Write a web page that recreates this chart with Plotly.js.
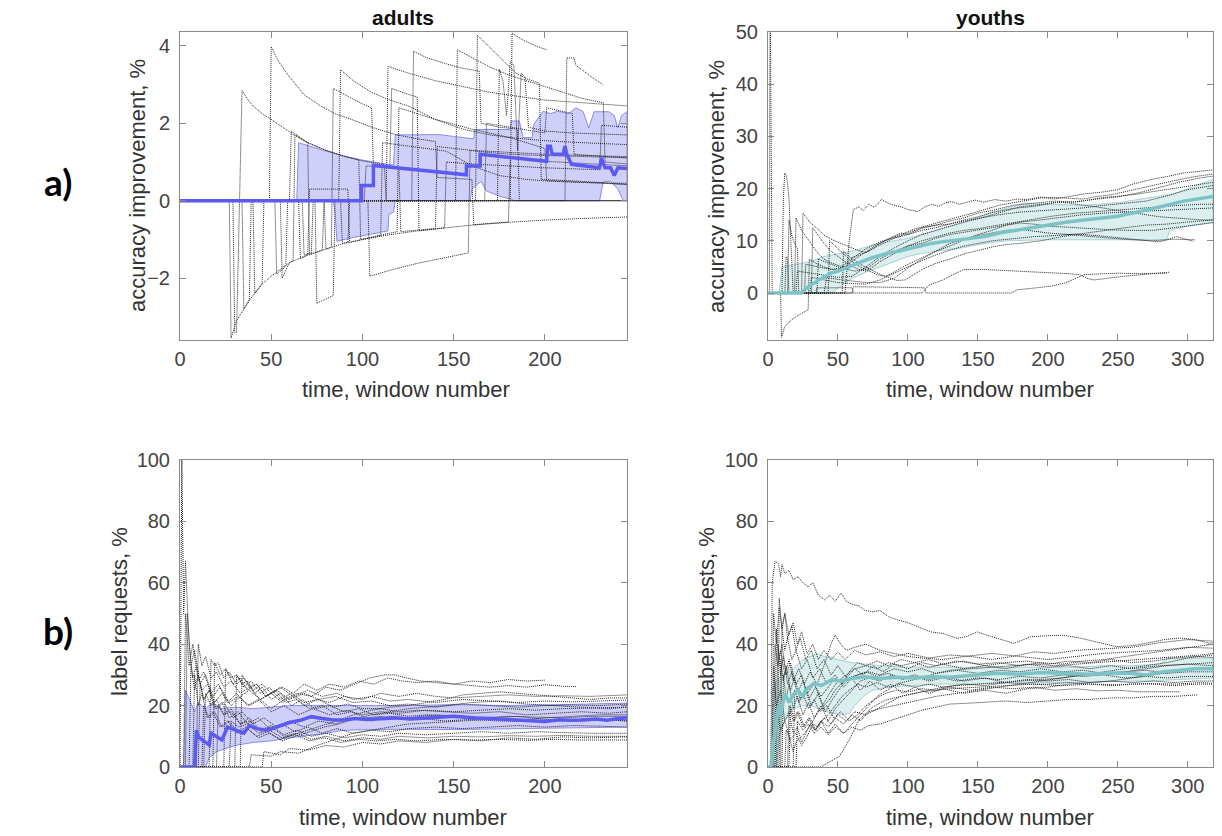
<!DOCTYPE html>
<html><head><meta charset="utf-8">
<script src="https://cdn.plot.ly/plotly-3.0.1.min.js"></script>
<style>html,body{margin:0;padding:0;background:#fff;}#chart{width:1222px;height:836px;}</style>
</head><body><div id="chart"></div>
<script>
// ---------- tick labels ----------
const adultTimeTicks = [0, 50, 100, 150, 200];
const youthTimeTicks = [0, 50, 100, 150, 200, 250, 300];
const adultAccTicks = [-2, 0, 2, 4];
const youthAccTicks = [0, 10, 20, 30, 40, 50];
const labelTicks = [0, 20, 40, 60, 80, 100];

// ---------- a) adults: accuracy improvement ----------
const adultAccMedian = [[0,0],[99.5,0],[99.5,0.39],[106,0.39],[106,0.91],[157,0.67],[157,0.9],[164.5,0.9],[164.5,1.2],[201,1.02],[201.5,1.41],[203,1.41],[204,1.2],[210,1.2],[211,1.41],[212,1.2],[214.6,0.94],[230,0.85],[231,1.1],[233,0.85],[236,0.85],[238,0.65],[240,0.85],[245,0.83]];
const adultAccUpper = [[0,0],[64,0],[65,1.5],[70,1.42],[80,1.28],[90,1.15],[100,1.05],[110,0.97],[117,0.92],[118,1.7],[142,1.71],[150,1.66],[161,1.6],[161.5,1.84],[181,1.84],[181.5,2.06],[186,2.06],[188,1.63],[193,1.63],[194,1.98],[199,2.31],[203,2.25],[207,2.31],[213,2.25],[217,2.4],[221,2.3],[224,1.88],[227,2.3],[235,2.3],[238,2.2],[240,1.88],[242,2.2],[245,2.3]];
const adultAccLower = [[0,0],[84,0],[85,-0.3],[86,-1.05],[95,-0.95],[105,-0.86],[114,-0.78],[114.5,-0.35],[117,-0.3],[118,0],[159,0],[160,0.3],[165,0.5],[168,0.25],[175,0.12],[182,0.03],[183,0],[230,0],[232,0.5],[236,0.5],[240,0.3],[243,0],[245,0]];
const adA01 = [[0,0],[27,0],[28,-3.55],[31,-3.1],[35,-2.8],[40,-2.45],[45,-2.15],[50,-1.95],[60,-1.6],[70,-1.4],[80,-1.25],[90,-1.1],[100,-1.0],[115,-0.88],[130,-0.78],[145,-0.7],[160,-0.63],[180,-0.56],[200,-0.5],[220,-0.46],[245,-0.42]];
const adA02 = [[0,0],[29,0],[30,-3.4],[31,-3.4],[34,2.85],[37,2.62],[40,2.45],[45,2.25],[50,2.1],[55,1.93],[60,1.78],[65,1.63],[70,1.5],[80,1.3],[90,1.15],[100,1.03],[110,0.95],[112,0.93],[113,0],[245,0]];
const adA03 = [[0,0],[49,0],[50,3.98],[54,3.6],[59,3.26],[64,2.98],[68,2.74],[77,2.45],[85,2.25],[94,2.1],[105,1.9],[118,1.71],[130,1.6],[140,1.53],[141,0.6],[160,0.55],[161,-0.62],[180,-0.55],[181,1.1],[200,1.02],[245,0.9]];
const adA04 = [[0,0],[74,0],[75,-2.65],[80,-2.55],[84,-2.45],[85,0],[87,0],[88,3.38],[95,3.1],[105,2.8],[115,2.6],[125,2.45],[140,2.1],[155,1.85],[170,1.7],[181,1.63],[200,1.55],[220,1.5],[245,1.45]];
const adA05 = [[0,0],[113,0],[114,3.47],[125,3.3],[140,3.1],[155,2.95],[170,2.8],[185,2.7],[200,2.6],[215,2.55],[230,2.5],[245,2.45]];
const adA06 = [[0,0],[103,0],[104,-1.95],[115,-1.8],[130,-1.62],[145,-1.48],[158,-1.35],[159,1.3],[175,1.22],[190,1.18],[210,1.15],[230,1.13],[245,1.12]];
const adA07 = [[0,0],[127,0],[128,3.86],[135,3.7],[145,3.55],[155,3.42],[164,3.35],[165,2.0],[175,1.9],[185,1.85],[186,0],[245,0]];
const adA08 = [[0,0],[151,0],[152,3.9],[160,3.7],[170,3.45],[180,3.25],[190,3.1],[200,2.95],[210,2.8],[220,2.65],[232,2.53],[233,1.0],[245,0.95]];
const adA09 = [[0,0],[162,0],[163,4.28],[170,3.95],[178,3.6],[184,3.3],[190,3.15],[197,3.04],[198,0.55],[220,0.5],[245,0.42]];
const adA10 = [[0,0],[181,0],[182,4.33],[188,4.15],[195,4.0],[201,3.9]];
const adA11 = [[0,0],[174,0],[175,3.4],[177,3.1],[179,2.2],[181,3.6],[183,3.5],[185,1.3],[187,3.3],[189,3.2],[191,1.9],[200,1.8],[215,1.75],[245,1.7]];
const adA12 = [[0,0],[211,0],[212,3.69],[216,3.69],[217,3.5],[224,3.25],[232,2.99]];
const adA13 = [[0,0],[55,0],[56,-2.0],[60,-1.6],[62,-1.55],[63,1.7],[70,1.5],[80,1.3],[90,1.15],[98,1.05],[99,-1.0],[110,-0.9],[119,-0.8],[120,2.4],[140,2.1],[160,1.85],[181,1.63],[200,1.35],[201,0.52],[245,0.42]];
const adA14 = [[0,0],[65,0],[66,-1.5],[70,-1.4],[71,0.3],[92,0.3],[93,-1.08],[110,-0.9],[111,1.5],[130,1.38],[146,1.28],[160,0.9],[175,0.65],[190,0.55],[201,0.51],[220,0.47],[245,0.45]];
const adA15 = [[0,0],[34,0],[35,-2.8],[38,-2.55],[39,0],[60,0],[61,1.8],[70,1.5],[71,-1.4],[78,-1.28],[79,0],[101,0],[102,0.9],[120,0.85],[121,-0.8],[140,-0.72],[141,1.4],[160,1.3],[180,1.25],[200,1.2],[220,1.17],[245,1.14]];
const adA16 = [[0,0],[79,0],[80,-1.25],[83,-1.2],[84,2.9],[90,2.75],[100,2.5],[105,2.4],[106,0.9],[115,0.87],[116,2.9],[125,2.75],[130,2.68],[131,-0.78],[145,-0.7],[146,1.0],[160,0.95],[200,0.85],[230,0.8],[231,1.95],[245,1.9]];
const adA17 = [[0,0],[40,0],[41,-2.4],[45,-2.15],[46,0],[52,0],[53,-1.9],[58,-1.7],[59,0],[67,0],[68,-1.4],[72,-1.35],[73,0],[88,0],[89,-1.1],[92,-1.08],[93,0],[245,0]];
const adA18 = [[0,0],[167,0],[168,2.0],[180,1.9],[200,1.75],[201,2.4],[210,2.3],[215,2.25],[216,1.2],[245,1.1]];

// ---------- a) youths: accuracy improvement ----------
const youthAccMedian = [[0,0],[24,0],[27,0.8],[30,1.5],[33,1.9],[36,2.5],[40,3.0],[45,3.8],[50,4.2],[57,5.0],[63,5.6],[69,6.2],[75,6.8],[81,7.3],[87,7.7],[93,8.0],[99,8.4],[105,8.7],[111,9.1],[117,9.5],[124,9.8],[130,10.0],[140,10.4],[147,10.6],[155,10.8],[165,11.5],[178,12.1],[190,12.6],[202,13.1],[214,13.6],[226,14.0],[238,14.3],[250,14.7],[262,15.4],[273,16.0],[285,16.8],[297,17.6],[308,18.1],[318,18.5]];
const youthAccUpper = [[0,0],[8,0],[10,5],[20,5.5],[30,6],[40,7],[50,7.5],[60,8],[70,8.8],[80,9.5],[90,10],[100,10.5],[110,11.2],[120,12],[130,12.8],[140,13.5],[150,14.5],[160,15.5],[170,16.2],[183,17.2],[200,17],[225,16.8],[250,17.3],[273,18.2],[290,19],[305,20.5],[318,21.8]];
const youthAccLower = [[0,0],[45,0],[50,1],[60,2.8],[70,4],[80,5],[90,6],[100,7],[110,7.6],[120,8],[130,8.4],[140,8.7],[155,9.5],[170,10],[200,10.2],[230,10.2],[260,10.2],[285,10.2],[287,12],[300,12.8],[318,13.5]];
const yA00 = [[0,0],[1,0],[1.5,60],[3,0],[9,0],[9.7,-8.5],[12,-6.4],[17,-5.1],[22,-4.2],[28.7,-3.2],[29.5,6.5],[35,5.6],[40,5.0],[45,4.6],[50,4.4],[55,5.5],[60,6.8],[70,7.8],[80,9.2],[90,10.5],[100,11.2],[110,12.4],[120,13],[130,13.8],[140,14.4],[150,15.3],[160,15.8],[175,16.8],[190,17.2],[205,17.6],[220,17.4],[240,18.3],[260,18.8],[280,19.6],[300,20.5],[318,21.2]];
const yA01 = [[0,0],[55,0],[56,3],[58,10],[61,16],[65,16.5],[68,15.8],[72,17],[76,16.4],[81,17.9],[86,17.2],[90,16.8],[95,16.5],[100,16],[107,15.6],[112,16.5],[117,17],[122,16.6],[127,17.3],[131,17.5],[137,17],[142,17.4],[148,17.8],[154,17.4],[162,17.9],[170,17.6],[178,18],[185,17.9],[195,18.4],[205,18],[216,18.5],[226,19],[238,19.3],[250,19.8],[260,20.8],[273,21.7],[285,22.3],[297,23],[308,23.3],[318,23.6]];
const yA02 = [[0,0],[10,0],[11,18.3],[12,23],[13,22.5],[14,21],[15,18],[17,4],[18,0],[60,0],[61,1.2],[90,1.1],[112,1],[113,0],[174,0],[178,0.6],[190,0.9],[202,1.3],[212,1.9],[220,2.8],[226,3.5],[240,3.7],[250,3.8],[265,3.7],[285,3.8]];
const yA03 = [[0,0],[12,0],[13,7],[14,6.5],[15,0],[110,0],[115,1.5],[125,2.5],[132,3.5],[140,4.5],[155,4.5],[170,4.3],[183,4.1],[200,4.0],[215,3.7],[223,3.5],[228,2.8],[233,2.5],[244,2.9],[254,3.2],[270,3.6],[287,4.0]];
const yA04 = [[0,0],[24,0],[25,15.3],[30,13.5],[35,12.4],[40,11.1],[46,10.2],[52,9.5],[58,8.9],[64,8.2],[70,7.7],[75,8.5],[80,9.5],[85,10.2],[90,10.8],[95,11.5],[100,11.2],[110,12],[120,12.5],[130,13.3],[140,14],[150,14.6],[160,15.4],[175,16.2],[190,16.6],[205,17.3],[220,17.5],[235,18],[250,18.4],[265,19.2],[280,20.2],[295,21.3],[308,22],[318,22.4]];
const yA05 = [[0,0],[19,0],[20,14.4],[24,12],[28,10.5],[32,9],[36,7.5],[40,6.5],[45,5.8],[50,5.3],[55,5],[60,6.5],[65,7.5],[70,8.5],[80,9.8],[90,10.5],[100,11.5],[110,12.5],[120,13],[130,13.2],[140,13.8],[150,14.3],[165,15],[180,15.5],[195,15.8],[210,16],[225,16.3],[240,16.8],[255,17.2],[270,17.6],[285,18.6],[300,19.8],[318,20.6]];
const yA06 = [[0,0],[31,0],[32,12.5],[36,11],[40,9.5],[45,8],[50,7],[55,6],[60,5.2],[65,4.5],[70,4.2],[75,5],[80,6],[90,7.5],[100,9],[110,10],[120,10.8],[130,11.5],[140,12],[150,12.3],[160,12.8],[175,13.5],[190,14.2],[205,14.8],[220,15.3],[235,15.6],[250,16],[265,16.2],[280,16.5],[295,16.8],[310,17],[318,17]];
const yA07 = [[0,0],[43,0],[44,10],[48,9],[52,8],[56,7],[60,6],[66,5],[72,4.2],[78,3.5],[84,3.2],[90,4],[100,5.5],[110,6.8],[120,8],[130,9],[140,10.2],[150,11.2],[160,12],[170,13],[180,13.6],[195,14],[210,14.5],[225,15],[240,15.3],[255,15.5],[270,15.6],[285,15.8],[300,16],[318,16.3]];
const yA08 = [[0,0],[53,0],[54,8],[58,7],[62,6.2],[68,5.2],[74,4.4],[80,3.6],[86,3],[92,2.4],[98,2.5],[104,3.5],[110,4.5],[120,5.7],[130,6.5],[140,7.5],[150,8.2],[160,8.8],[170,9.3],[180,9.5],[195,10],[210,10.8],[225,11.4],[240,12],[255,12.5],[270,13],[285,13.2],[300,13.6],[318,14]];
const yA09 = [[0,0],[40,0],[42,3],[50,2.6],[60,2.3],[70,2],[80,2],[90,2.8],[100,4.8],[110,6.5],[120,8],[130,9.5],[140,10.3],[150,11],[160,11.5],[170,12],[180,12.2],[190,11.8],[200,11.5],[215,11.2],[230,10.8],[245,10.5],[260,10.2],[275,10],[290,10.3],[305,10.2]];
const yA10 = [[0,0],[30,0],[31,3],[40,2.5],[50,2],[60,1.8],[70,1.7],[80,2.5],[90,3.8],[100,5],[110,6.2],[120,7.3],[130,8.2],[140,9],[150,9.5],[160,10],[175,10.4],[190,10.8],[205,11],[220,11.3],[235,11],[250,10.6],[265,10.2],[280,9.8],[292,10.8],[304,9.9]];
const yA11 = [[0,0],[20,0],[21,4.2],[30,3.8],[40,3.3],[50,3],[60,3.2],[70,5],[80,7],[90,8.6],[100,10],[110,11.2],[120,12],[130,12.8],[140,13.6],[150,14.2],[160,15],[170,15.8],[180,16.5],[190,16.8],[200,17.2],[210,17.5],[220,17],[235,16.5],[250,15.8],[265,15.2],[280,14.6],[295,14.3],[310,14],[318,14]];
const yA12 = [[0,0],[26,0],[27,5.5],[35,5],[45,4.5],[55,5],[65,7],[75,8.8],[85,10.3],[95,11.2],[105,12.3],[115,13],[125,13.8],[135,14.5],[145,15.2],[155,16],[165,16.8],[175,17.3],[185,17.8],[195,18.2],[205,18.3],[215,18.2],[225,18],[235,18.5],[245,18.8],[255,19.4],[265,20],[275,20.6],[285,21.3],[295,21.8],[305,22.3],[318,22.8]];
const yA13 = [[0,0],[35,0],[36,6.5],[42,5.8],[48,5.2],[55,4.6],[62,4.2],[70,4.6],[80,6.5],[90,8],[100,9],[110,9.5],[120,10.5],[130,11.2],[140,11.6],[150,12],[160,12.5],[170,13],[180,13.4],[190,13.2],[200,12.8],[215,12.6],[230,12.3],[245,12.1],[260,12],[275,12],[290,12.5],[305,13],[318,13.5]];
const yA14 = [[0,0],[14,0],[15,14],[17,11],[19,9.5],[21,8.5],[22,0],[34,0],[35,1],[60,1],[61,0]];

// ---------- b) adults: label requests ----------
const adultLabMedian = [[0,0],[8,0],[9,12],[10,9.9],[13,8.5],[16,7.2],[17,11],[20,10],[23,8.8],[26,13],[30,12],[35,11],[38,13.5],[42,12.5],[48,12],[54,13.1],[60,14.5],[66,15.2],[72,16.4],[78,15.8],[84,15.3],[90,15.3],[96,15.8],[102,15.5],[110,15.8],[118,16],[126,15.6],[134,15.8],[142,16.2],[150,16.5],[155,16.4],[162,16],[170,15.8],[178,15.5],[185,15.3],[192,15.1],[200,14.8],[208,15.4],[214,15.2],[220,15.3],[228,15.6],[234,15.2],[240,15.8],[245,16]];
const adultLabUpper = [[0,0],[2,0],[3,25],[5,22],[8,18],[10,21],[14,19],[18,21],[22,19],[30,19.5],[40,19],[50,19.5],[60,20],[80,20],[100,20],[120,20],[150,20.3],[180,20],[200,20.2],[220,20.5],[245,20.8]];
const adultLabLower = [[0,0],[14,0],[16,3],[20,5],[25,6],[30,7],[40,8],[50,8.5],[60,9.5],[70,10.3],[80,11],[90,12],[100,12.2],[120,12.3],[150,12.2],[180,12.5],[200,12.6],[220,12.8],[245,13]];
const aL01 = [[0,0],[1,100],[2,50],[3,67],[5,40],[7,29],[9,33],[12,25],[15,27],[19,21],[23,24],[28,20],[33,23],[38,25],[44,22],[50,24],[56,26],[62,24],[68,27],[75,25],[82,27],[90,26],[98,28],[106,27],[114,29],[122,28],[130,27.5],[140,28],[150,27],[160,28],[170,27.5],[180,28.5],[190,28],[200,28.3]];
const aL02 = [[0,0],[3,0],[4,50],[6,33],[8,38],[11,27],[14,30],[18,23],[22,26],[27,21],[32,23],[38,20],[44,22],[50,19],[57,22],[64,24],[72,23],[80,26],[88,25],[96,27],[104,29],[112,30],[118,30],[124,29],[132,28],[140,27.5],[150,27],[160,26.5],[170,26],[180,26.5],[190,26],[200,26.8],[210,26.3],[217,26.2]];
const aL03 = [[0,0],[9,0],[10,40],[12,33],[14,36],[17,29],[20,31],[24,26],[28,28],[33,24],[38,26],[44,22],[50,24],[56,21],[62,23],[68,20],[75,22],[82,21],[90,23],[100,22],[110,24],[120,23],[130,24],[140,23],[150,22.5],[165,23],[180,23.5],[195,23],[210,23.2],[225,23],[245,23.5]];
const aL04 = [[0,0],[16,0],[17,35],[19,33],[21,34],[24,29],[27,31],[31,27],[35,29],[40,25],[45,27],[50,24],[55,26],[62,23],[70,25],[78,23],[86,24],[95,22],[105,23],[115,21.5],[125,22],[140,21],[155,22],[170,21.5],[185,21],[200,21.5],[215,21.2],[230,21.5],[245,21.8]];
const aL05 = [[0,0],[18,0],[19,34],[22,30],[25,32],[29,27],[33,29],[37,25],[42,27],[47,23],[53,25],[60,22],[68,24],[76,22],[85,23],[95,21],[105,21.5],[115,20],[125,20.5],[140,19.5],[155,20.5],[170,20],[185,19.5],[200,20],[215,20.2],[230,20],[245,20.5]];
const aL06 = [[0,0],[2,0],[3,50],[5,33],[7,40],[10,28],[13,31],[17,24],[21,27],[26,21],[31,24],[37,20],[43,22],[50,18],[57,20],[65,17],[73,19],[82,17],[91,18.5],[100,17],[110,18],[120,17.5],[135,18.5],[150,18],[165,18.5],[180,19],[195,18.5],[210,19],[225,19.2],[245,19.5]];
const aL07 = [[0,0],[24,0],[25,32],[28,29],[31,30],[35,26],[39,28],[44,24],[49,26],[55,22],[61,24],[68,21],[76,22],[84,19.5],[92,20.5],[100,19],[110,19],[120,18],[130,18.5],[145,18],[160,17.5],[175,18],[190,17],[205,17.5],[220,18],[235,17.5],[245,18]];
const aL08 = [[0,0],[30,0],[31,30],[34,27],[37,28],[41,24],[45,26],[50,22],[55,24],[61,20],[67,22],[74,19],[82,20],[90,18],[98,19],[106,17],[115,17.5],[125,16.5],[135,17],[150,16.5],[165,16],[180,16.5],[195,16.3],[210,16],[225,16.5],[245,16.5]];
const aL09 = [[0,0],[33,0],[34,30],[38,26],[42,27],[47,23],[52,25],[58,21],[64,22],[71,19],[78,20],[86,17],[94,18],[102,16],[110,16.5],[120,15.5],[130,16],[145,15],[160,15.5],[175,15],[190,14.8],[205,15.2],[220,15],[235,15.3],[245,15]];
const aL10 = [[0,0],[5,0],[6,33],[8,25],[10,30],[13,22],[16,25],[20,19],[24,21],[29,16],[34,18],[40,14],[46,16],[53,13],[60,15],[68,13],[76,15],[85,14],[95,16],[105,15],[115,16.5],[125,16],[140,17],[155,16.5],[170,16],[185,16.5],[200,15.5],[215,15],[230,15.5],[245,15]];
const aL11 = [[0,0],[10,0],[11,27],[13,22],[16,25],[19,19],[23,21],[27,16],[32,18],[37,14],[43,16],[49,12.5],[56,14],[63,11.5],[70,13],[78,11],[86,12.5],[95,11],[105,12],[115,11.5],[125,12.5],[140,13],[155,12.5],[170,13],[185,13.5],[200,13],[215,13.5],[230,13.3],[245,13]];
const aL12 = [[0,0],[13,0],[14,24],[17,20],[20,22],[24,17],[28,19],[33,14],[38,16],[44,12],[50,13.5],[57,10.5],[64,12],[72,10],[80,11],[90,9.5],[100,10.5],[110,10],[120,11],[135,10.5],[150,11],[165,11.5],[180,11],[195,11.5],[210,11.2],[225,11],[245,11]];
const aL13 = [[0,0],[20,0],[21,20],[24,17],[28,18],[33,14],[38,15],[44,11.5],[50,13],[57,10],[64,11],[72,9],[80,10],[90,8.5],[100,9.5],[110,9],[120,10],[135,9.5],[150,10],[165,9.8],[180,10.2],[195,10],[210,10.3],[225,10],[245,10]];
const aL14 = [[0,0],[27,0],[28,15],[32,13],[37,14],[43,11],[49,12],[56,9.5],[63,10.5],[71,8.5],[79,9.5],[88,8],[98,9],[108,8.5],[118,9],[130,8.5],[145,9],[160,8.8],[175,9],[190,8.7],[205,9],[220,8.8],[245,8.8]];
const aL15 = [[0,0],[45,0],[46,5],[55,4],[60,6],[70,5.5],[80,7],[90,6.5],[100,8],[110,7.5],[120,8.5],[135,8],[150,9],[165,8.5],[180,9.5],[195,9],[210,9.8],[225,9.5],[245,9.8]];
const aL16 = [[0,0],[7,0],[8,30],[10,20],[12,24],[15,16],[18,18],[22,13],[26,15],[31,11],[36,13],[42,10],[48,11.5],[55,9],[62,10.5],[70,12],[78,13.5],[86,15],[95,17],[105,18.5],[115,19.5],[125,20],[135,21],[145,22],[155,23.5],[165,24],[175,24.5],[185,24],[195,23.5],[205,23],[215,22.5],[225,22],[235,22.5],[245,22.5]];
const aL17 = [[0,0],[12,0],[13,20],[16,16],[19,18],[23,13],[27,15],[32,11],[37,12.5],[43,9.5],[49,11],[56,8.5],[63,10],[71,11.5],[79,13],[87,14],[95,15.5],[105,17],[115,18],[125,19],[135,19.5],[145,20],[160,21],[175,21.5],[190,20.5],[205,20],[220,19.5],[235,19],[245,19.5]];
const aL18 = [[0,0],[38,0],[39,4],[50,3.5],[55,5],[65,4.5],[75,7],[85,9],[95,11],[105,12],[115,13],[125,14],[140,14.5],[155,15],[170,15.5],[185,15.2],[200,16],[215,16.5],[230,17],[245,17]];

// ---------- b) youths: label requests ----------
const youthLabMedian = [[0,0],[2,0],[4,8],[6,15],[7.4,19.6],[9,17],[12,24],[15,21],[18,23.5],[21.5,25],[25,23],[28,25.5],[33,27.3],[38,26.5],[45,28.3],[52,28],[60,28.8],[69,29.4],[80,28.8],[92,29.2],[105,29],[116,29.4],[130,29.2],[145,29.8],[164,30.5],[180,30.2],[195,30.8],[211,30.5],[230,30.2],[245,30.6],[259,30.5],[270,30],[282.8,31],[295,31.5],[305,32],[315.6,32.1],[318,32]];
const youthLabUpper = [[0,0],[2,0],[3,25],[6,28],[10,30],[15,31],[20,33],[25,35],[30,36],[35,37],[40,36],[45,35.5],[50,35],[60,34],[70,33.5],[80,33],[100,32.5],[120,32.5],[140,32.5],[160,32.5],[180,32.5],[200,32.5],[220,32.5],[240,33],[260,33],[280,33.5],[285,35.4],[300,35.4],[318,35.5]];
const youthLabLower = [[0,0],[6,0],[8,10],[12,15],[18,19],[24,20],[30,20],[36,19],[42,18],[48,17.5],[54,17],[58,17.5],[62,20],[68,23],[75,25],[85,26],[100,26.5],[120,27],[150,27],[180,27.5],[210,27.5],[240,27.8],[270,28],[290,28.3],[318,29]];
const yL01 = [[0,0],[2,0],[3,60],[5,67],[7.4,66.3],[9,62],[10,66],[12,63],[15,64],[18,61],[21.5,62],[25,60],[28.6,58.7],[32,60],[36,56],[40.5,54.4],[44,56],[48,54],[52.3,56.6],[56,54],[60,53],[65,52.5],[69,51.1],[75,50.5],[80,51],[86,49],[92.7,47.9],[100,47],[108,45.5],[116.4,44],[125,43.5],[135.4,41.9],[142,42.5],[149.6,44],[156,43],[163.8,41.9],[170,41],[175.7,40.3],[181,41.2],[187.5,42.4],[200,42.8],[211.3,42.9],[223,42],[235,40.8],[249,39.2],[260,39.5],[270.6,40.3],[283,41.5],[294.3,42],[305,41.5],[315.6,40.3],[318,40.5]];
const yL02 = [[0,0],[3,0],[4,50],[6,40],[8,52],[10,45],[12,50],[15,43],[18,47],[21,40],[24,44],[28,37],[32,40],[36,35],[40,38],[45,35],[50,37.5],[55,35],[62,38],[70,36.5],[80,37.5],[90,36],[100,37],[115,35.5],[130,36.5],[145,36],[160,35],[175,36],[190,37.5],[205,37],[220,38],[240,38.5],[260,39],[280,40.5],[300,41.5],[318,41]];
const yL03 = [[0,0],[4,0],[5,40],[7,33],[9,38],[12,30],[15,35],[18,28],[22,32],[26,27],[30,31],[35,27],[40,33],[45,40],[48,43],[52,40],[56,38],[62,39],[70,40],[80,38],[90,37],[100,36],[110,35.5],[125,35],[140,36],[160,37],[180,36],[200,35],[220,36],[240,37],[260,37.5],[280,38],[300,39],[318,38.7]];
const yL04 = [[0,0],[5,0],[6,45],[8,35],[10,40],[13,30],[16,34],[20,27],[24,30],[28,24],[33,27],[38,23],[43,26],[48,29],[53,27],[58,31],[64,34],[70,33],[78,34.5],[86,33],[95,35],[105,34],[115,35],[125,33.5],[140,34.5],[155,33],[170,34],[185,34.5],[200,33.5],[215,34.5],[230,34],[245,35],[260,34],[275,34.5],[290,35.5],[305,36],[318,35.7]];
const yL05 = [[0,0],[6,0],[7,40],[9,30],[11,36],[14,27],[17,31],[21,24],[25,28],[29,22],[34,26],[39,20],[44,24],[50,28],[56,30],[62,32],[70,33],[78,32],[86,34],[95,33],[105,34],[115,32.5],[125,33.5],[140,32],[155,33],[170,32],[185,33.5],[200,32.5],[215,33],[230,32],[245,33],[260,32],[280,33],[300,33.5],[318,33]];
const yL06 = [[0,0],[8,0],[9,35],[11,28],[13,33],[16,25],[19,29],[23,22],[27,26],[31,20],[36,24],[41,18],[46,22],[52,26],[58,29],[64,30],[72,31],[80,30],[90,32],[100,31],[110,32],[120,30.5],[135,31.5],[150,30.5],[165,31.5],[180,31],[195,32],[210,31],[225,31.5],[240,30.5],[255,31],[270,31.5],[285,30.5],[300,31],[318,31]];
const yL07 = [[0,0],[10,0],[11,30],[13,22],[15,27],[18,19],[21,23],[25,17],[29,21],[33,16],[38,20],[43,15],[48,19],[54,22],[60,25],[66,28],[72,29],[80,28],[88,30],[96,28.5],[105,29.5],[115,28],[125,29],[135,28],[150,29],[165,28.5],[180,29.5],[195,29],[210,30],[225,29.5],[240,30],[255,29],[270,29.5],[285,29],[300,29.5],[318,29.5]];
const yL08 = [[0,0],[12,0],[13,12],[15,10],[18,5],[20,8],[24,10],[28,12],[32,15],[36,18],[40,20],[44,22],[48,25],[52,27],[58,29],[64,30],[70,31],[78,29.5],[86,30.5],[95,29],[105,30],[115,28.5],[125,29.5],[140,28],[155,29],[170,27.5],[185,28.5],[200,28],[215,28.5],[230,27.5],[245,28],[260,27.5],[275,28],[290,27.5],[305,28],[318,28]];
const yL09 = [[0,0],[15,0],[16,20],[19,15],[22,18],[26,13],[30,16],[34,12],[38,15],[43,17],[48,20],[53,23],[58,25],[64,27],[70,26],[78,27.5],[86,26],[95,27],[105,26],[115,27],[125,26],[140,27],[155,26.5],[170,27.5],[185,27],[200,27],[215,27.5],[230,27],[245,26.5],[260,27],[275,27],[290,26.5],[305,27],[318,27]];
const yL10 = [[0,0],[18,0],[19,25],[22,21],[25,24],[29,19],[33,22],[37,18],[42,20],[47,16],[52,18],[58,15],[64,17],[70,20],[76,22],[84,24],[92,25],[100,24.5],[110,25.5],[120,25],[130,26],[145,25],[160,26],[175,25.5],[190,26],[205,25],[220,25.5],[235,24.8],[250,25],[265,24.5],[280,24.5],[294,24.5]];
const yL11 = [[0,0],[20,0],[21,15],[25,12],[29,14],[33,11],[38,13],[43,10.5],[48,13],[54,11],[60,13],[66,12],[72,13.5],[80,14],[90,15.5],[100,17],[110,18.5],[120,19.5],[130,20.5],[140,20.7],[155,21],[170,21.5],[185,21],[200,21.5],[215,22],[230,22],[245,22.5],[260,22.5],[275,23],[290,23],[307,23.5]];
const yL12 = [[0,0],[38,0],[42,1.2],[51,3.4],[58,8.8],[65,15.3],[75,19.6],[84,21.8],[95,23],[110,24.5],[130,25.5],[150,26],[170,26.5],[190,27],[210,26.5],[230,27],[250,26.8],[270,27.2],[290,27],[310,27.5],[318,27.2]];
const yL13 = [[0,0],[3,0],[4,33],[6,20],[9,25],[12,15],[15,18],[18,11],[21,13],[24,8],[27,11],[30,14],[34,12],[38,15],[43,13],[48,16],[54,14],[60,17],[66,15],[72,18],[80,19],[90,20],[100,21],[110,22],[120,23],[135,24],[150,25],[165,26],[180,27],[195,28],[210,29],[225,30],[240,30.5],[255,31],[270,32],[285,33],[300,33.5],[318,34]];
const yL14 = [[0,0],[7,0],[8,55],[10,45],[12,50],[14,42],[17,46],[20,38],[23,42],[27,35],[31,38],[35,32],[40,35],[45,30],[50,33],[56,29],[62,32],[68,30],[75,33],[82,31],[90,33.5],[100,32],[110,34],[120,33],[135,34.5],[150,33.5],[165,34],[180,33],[195,34],[210,33.5],[225,34.5],[240,35],[255,36],[270,37],[285,38],[300,39],[318,40]];
const yL15 = [[0,0],[9,0],[10,45],[12,38],[14,42],[17,35],[20,38],[24,32],[28,35],[32,29],[37,32],[42,27],[48,30],[54,26],[60,29],[66,25],[73,28],[80,25],[88,27],[96,24],[105,26],[115,24],[125,25.5],[140,24],[155,25],[170,24],[185,25.5],[200,26],[215,27],[230,27.5],[245,28],[260,29],[275,30],[290,31],[305,32],[318,32]];
const yL16 = [[0,0],[14,0],[15,20],[18,15],[21,18],[25,13],[29,16],[33,12],[38,15],[43,11],[48,14],[54,11],[60,14],[66,17],[72,20],[78,23],[85,25],[92,27],[100,28],[110,29],[120,30.5],[130,31.5],[145,32],[160,32.5],[175,33],[190,33.5],[205,33],[220,33.5],[235,34],[250,34.5],[265,35],[280,35.5],[295,36],[310,36.5],[318,37]];
const yL17 = [[0,0],[5,0],[6,20],[9,12],[12,15],[16,9],[20,11],[24,7],[28,10],[32,14],[36,13],[40,16],[45,14],[50,17],[56,15],[62,18],[70,17],[78,19],[86,21],[95,23],[105,24],[115,25],[125,26],[135,26.5],[150,27],[165,27.5],[180,28],[195,28.5],[210,29],[225,30],[240,31],[255,32],[270,33],[285,34],[300,35.5],[318,36.5]];

// ---------- assembly ----------
const W = 1222, H = 836;
const px = v => v / W, py = v => 1 - v / H;
const ADULT = {med: '#5b5bf3', fill: 'rgba(160,160,245,0.5)', edge: '#8c8cf2'};
const YOUTH = {med: '#7cc3c5', fill: 'rgba(190,225,225,0.55)', edge: '#a6d3d4'};

const panels = [
  {xa: 'x',  ya: 'y',  c: ADULT, med: adultAccMedian, up: adultAccUpper, lo: adultAccLower,
   subs: [adA01,adA02,adA03,adA04,adA05,adA06,adA07,adA08,adA09,adA10,adA11,adA12,adA13,adA14,adA15,adA16,adA17,adA18]},
  {xa: 'x2', ya: 'y2', c: YOUTH, med: youthAccMedian, up: youthAccUpper, lo: youthAccLower,
   subs: [yA00,yA01,yA02,yA03,yA04,yA05,yA06,yA07,yA08,yA09,yA10,yA11,yA12,yA13,yA14]},
  {xa: 'x3', ya: 'y3', c: ADULT, med: adultLabMedian, up: adultLabUpper, lo: adultLabLower,
   subs: [aL01,aL02,aL03,aL04,aL05,aL06,aL07,aL08,aL09,aL10,aL11,aL12,aL13,aL14,aL15,aL16,aL17,aL18]},
  {xa: 'x4', ya: 'y4', c: YOUTH, med: youthLabMedian, up: youthLabUpper, lo: youthLabLower,
   subs: [yL01,yL02,yL03,yL04,yL05,yL06,yL07,yL08,yL09,yL10,yL11,yL12,yL13,yL14,yL15,yL16,yL17]}
];

const traces = [];
panels.forEach(p => {
  const lo = p.lo.slice().reverse();
  traces.push({type: 'scatter', mode: 'lines', xaxis: p.xa, yaxis: p.ya, hoverinfo: 'skip',
    x: p.up.map(d => d[0]).concat(lo.map(d => d[0])),
    y: p.up.map(d => d[1]).concat(lo.map(d => d[1])),
    fill: 'toself', fillcolor: p.c.fill, line: {color: p.c.edge, width: 1}});
  p.subs.forEach(s => traces.push({type: 'scatter', mode: 'lines', xaxis: p.xa, yaxis: p.ya, hoverinfo: 'skip',
    x: s.map(d => d[0]), y: s.map(d => d[1]),
    line: {color: '#262626', width: 1, dash: '1px,1px'}}));
  traces.push({type: 'scatter', mode: 'lines', xaxis: p.xa, yaxis: p.ya, hoverinfo: 'skip',
    x: p.med.map(d => d[0]), y: p.med.map(d => d[1]),
    line: {color: p.c.med, width: 3.5}});
});

const tickFont = {family: 'Liberation Sans, Arial, sans-serif', size: 20, color: '#444'};
const ax = (extra) => Object.assign({
  showline: true, mirror: 'ticks', linecolor: '#8a8a8a', linewidth: 1,
  ticks: 'inside', ticklen: 6, tickcolor: '#8a8a8a', showgrid: false, zeroline: false,
  tickfont: tickFont, fixedrange: true
}, extra);
const xax = (extra) => ax(Object.assign({ticklabelstandoff: 1}, extra));
const yax = (extra) => ax(Object.assign({ticklabelstandoff: 5}, extra));

const dxL = [px(180), px(627)], dxR = [px(768), px(1213)];
const dyT = [py(340), py(32)], dyB = [py(767), py(460)];

const titleFont = {family: 'Liberation Sans, Arial, sans-serif', size: 22, color: '#333'};
const ann = (text, x, y, angle, font) => ({text, x: px(x), y: py(y), xref: 'paper', yref: 'paper',
  showarrow: false, xanchor: 'center', yanchor: 'middle', textangle: angle || 0, font: font || titleFont});
const boldT = {family: 'Liberation Sans, Arial, sans-serif', size: 21, color: '#111'};
const boldL = {family: 'Lato, Open Sans, sans-serif', size: 37, color: '#000'};

const layout = {
  width: W, height: H, showlegend: false, paper_bgcolor: '#fff', plot_bgcolor: '#fff',
  margin: {l: 0, r: 0, t: 0, b: 0, pad: 0},
  xaxis:  xax({domain: dxL, anchor: 'y',  range: [0, 245], tickvals: adultTimeTicks}),
  yaxis:  yax({domain: dyT, anchor: 'x',  range: [-3.6, 4.36], tickvals: adultAccTicks}),
  xaxis2: xax({domain: dxR, anchor: 'y2', range: [0, 318], tickvals: youthTimeTicks}),
  yaxis2: yax({domain: dyT, anchor: 'x2', range: [-9, 50], tickvals: youthAccTicks}),
  xaxis3: xax({domain: dxL, anchor: 'y3', range: [0, 245], tickvals: adultTimeTicks}),
  yaxis3: yax({domain: dyB, anchor: 'x3', range: [0, 100], tickvals: labelTicks}),
  xaxis4: xax({domain: dxR, anchor: 'y4', range: [0, 318], tickvals: youthTimeTicks}),
  yaxis4: yax({domain: dyB, anchor: 'x4', range: [0, 100], tickvals: labelTicks}),
  annotations: [
    ann('<b>adults</b>', 403, 17, 0, boldT),
    ann('<b>youths</b>', 990, 17, 0, boldT),
    ann('<b>a)</b>', 58, 182, 0, boldL),
    ann('<b>b)</b>', 58, 630, 0, boldL),
    ann('time, window number', 406, 389),
    ann('time, window number', 990, 389),
    ann('time, window number', 403, 817),
    ann('time, window number', 990, 817),
    ann('accuracy improvement, %', 137, 186, -90),
    ann('accuracy improvement, %', 716, 187, -90),
    ann('label requests, %', 119, 612, -90),
    ann('label requests, %', 706, 612, -90)
  ]
};

Plotly.newPlot('chart', traces, layout, {displayModeBar: false, staticPlot: true});
</script></body></html>
